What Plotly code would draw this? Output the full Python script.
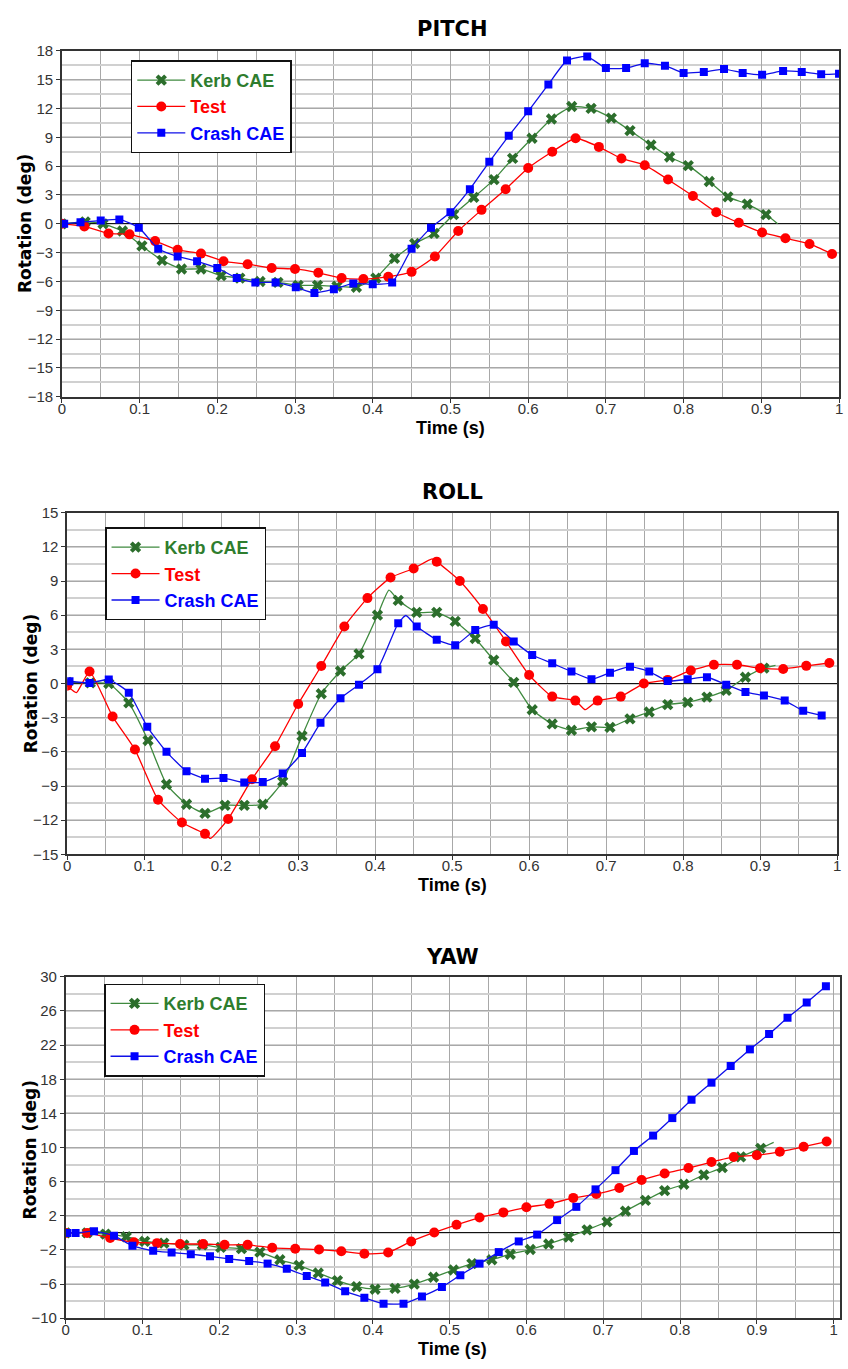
import plotly.graph_objects as go

# ---------------- DATA ----------------
# PITCH
pitch_kerb_t = [0, 0.03, 0.053, 0.078, 0.103, 0.129, 0.154, 0.179, 0.205, 0.229, 0.255, 0.278, 0.304, 0.329, 0.354, 0.379, 0.404, 0.428, 0.454, 0.479, 0.504, 0.53, 0.556, 0.58, 0.605, 0.63, 0.656, 0.681, 0.707, 0.731, 0.758, 0.782, 0.806, 0.833, 0.857, 0.882, 0.906]
pitch_kerb_v = [0, 0.2, 0.0, -0.75, -2.3, -3.8, -4.7, -4.7, -5.4, -5.65, -6.0, -6.1, -6.4, -6.4, -6.5, -6.6, -5.65, -3.6, -2.05, -1.0, 0.96, 2.75, 4.6, 6.8, 8.9, 10.9, 12.2, 12.0, 11.0, 9.7, 8.2, 6.95, 6.05, 4.4, 2.8, 2.05, 0.96]
pitch_kerb_extra_t = [0.921]
pitch_kerb_extra_v = [0.0]

pitch_test_t = [0, 0.029, 0.06, 0.087, 0.12, 0.149, 0.179, 0.208, 0.239, 0.27, 0.3, 0.33, 0.36, 0.388, 0.42, 0.45, 0.48, 0.51, 0.54, 0.571, 0.6, 0.631, 0.661, 0.691, 0.72, 0.75, 0.78, 0.812, 0.842, 0.871, 0.901, 0.931, 0.962, 0.991]
pitch_test_v = [0, -0.27, -1.0, -1.1, -1.8, -2.7, -3.1, -3.9, -4.2, -4.6, -4.7, -5.1, -5.65, -5.75, -5.5, -5.0, -3.4, -0.75, 1.45, 3.6, 5.8, 7.5, 8.9, 8.0, 6.8, 6.1, 4.6, 2.9, 1.2, 0.1, -0.9, -1.5, -2.1, -3.15]
pitch_test_extra_t = []
pitch_test_extra_v = []

pitch_crash_t = [0.003, 0.024, 0.05, 0.074, 0.099, 0.124, 0.149, 0.174, 0.2, 0.225, 0.249, 0.275, 0.301, 0.325, 0.35, 0.375, 0.4, 0.425, 0.45, 0.475, 0.5, 0.525, 0.55, 0.575, 0.6, 0.626, 0.65, 0.676, 0.7, 0.726, 0.75, 0.776, 0.8, 0.826, 0.852, 0.876, 0.901, 0.928, 0.952, 0.977, 1.0]
pitch_crash_v = [0, 0.17, 0.34, 0.45, -0.4, -2.6, -3.4, -3.9, -4.6, -5.65, -6.1, -6.1, -6.6, -7.2, -6.8, -6.2, -6.3, -6.1, -2.6, -0.4, 1.2, 3.6, 6.45, 9.15, 11.7, 14.5, 17.0, 17.4, 16.2, 16.2, 16.7, 16.45, 15.7, 15.8, 16.1, 15.7, 15.5, 15.9, 15.8, 15.55, 15.6]
pitch_crash_extra_t = []
pitch_crash_extra_v = []

# ROLL
roll_kerb_t = [0, 0.03, 0.054, 0.08, 0.105, 0.129, 0.155, 0.179, 0.205, 0.23, 0.254, 0.28, 0.305, 0.33, 0.355, 0.379, 0.403, 0.43, 0.454, 0.48, 0.504, 0.53, 0.554, 0.58, 0.604, 0.63, 0.655, 0.681, 0.705, 0.731, 0.756, 0.78, 0.806, 0.831, 0.856, 0.881, 0.905]
roll_kerb_v = [0.1, 0.05, 0, -1.7, -5.0, -8.85, -10.6, -11.4, -10.7, -10.7, -10.6, -8.6, -4.6, -0.9, 1.1, 2.6, 6.0, 7.3, 6.25, 6.25, 5.45, 3.95, 2.05, 0.1, -2.3, -3.55, -4.1, -3.8, -3.85, -3.1, -2.5, -1.85, -1.65, -1.2, -0.6, 0.55, 1.35]
roll_kerb_extra_t = [0.418, 0.92]
roll_kerb_extra_v = [8.2, 1.6]

roll_test_t = [0, 0.029, 0.059, 0.088, 0.118, 0.149, 0.179, 0.209, 0.24, 0.27, 0.3, 0.33, 0.36, 0.39, 0.42, 0.45, 0.48, 0.51, 0.54, 0.57, 0.6, 0.63, 0.66, 0.689, 0.719, 0.749, 0.78, 0.81, 0.84, 0.87, 0.9, 0.93, 0.96, 0.99]
roll_test_v = [-0.2, 1.05, -2.9, -5.8, -10.2, -12.2, -13.2, -11.9, -8.4, -5.5, -1.8, 1.54, 5.0, 7.5, 9.3, 10.1, 10.7, 9.0, 6.55, 3.7, 0.75, -1.15, -1.5, -1.5, -1.15, 0.0, 0.32, 1.15, 1.65, 1.65, 1.35, 1.28, 1.55, 1.8]
roll_test_extra_t = [0.012, 0.186, 0.474, 0.673]
roll_test_extra_v = [-0.8, -13.6, 10.95, -2.3]

roll_crash_t = [0.003, 0.029, 0.054, 0.08, 0.104, 0.129, 0.155, 0.179, 0.203, 0.23, 0.254, 0.28, 0.305, 0.329, 0.355, 0.379, 0.403, 0.43, 0.454, 0.48, 0.504, 0.53, 0.554, 0.58, 0.604, 0.63, 0.655, 0.681, 0.705, 0.731, 0.756, 0.78, 0.806, 0.831, 0.856, 0.881, 0.905, 0.932, 0.956, 0.98]
roll_crash_v = [0.2, 0.05, 0.35, -0.8, -3.8, -6.0, -7.7, -8.35, -8.3, -8.7, -8.65, -7.9, -6.1, -3.45, -1.3, -0.1, 1.25, 5.3, 5.0, 3.85, 3.36, 4.7, 5.15, 3.7, 2.5, 1.77, 1.05, 0.38, 0.95, 1.48, 1.05, 0.22, 0.37, 0.55, -0.1, -0.75, -1.05, -1.5, -2.4, -2.8]
roll_crash_extra_t = [0.44]
roll_crash_extra_v = [5.97]

# YAW
yaw_kerb_t = [0, 0.028, 0.052, 0.079, 0.103, 0.128, 0.154, 0.178, 0.202, 0.229, 0.253, 0.279, 0.304, 0.329, 0.354, 0.379, 0.403, 0.429, 0.454, 0.479, 0.505, 0.529, 0.555, 0.579, 0.605, 0.629, 0.655, 0.679, 0.705, 0.729, 0.755, 0.78, 0.805, 0.831, 0.855, 0.879, 0.905]
yaw_kerb_v = [0, 0, -0.15, -0.45, -1.0, -1.2, -1.4, -1.4, -1.7, -1.85, -2.25, -3.15, -3.8, -4.7, -5.6, -6.3, -6.6, -6.5, -6.0, -5.2, -4.35, -3.6, -3.15, -2.5, -1.95, -1.3, -0.5, 0.35, 1.3, 2.55, 3.8, 4.95, 5.7, 6.8, 7.65, 8.9, 9.9]
yaw_kerb_extra_t = [0.922]
yaw_kerb_extra_v = [10.6]

yaw_test_t = [0, 0.028, 0.058, 0.089, 0.119, 0.149, 0.179, 0.207, 0.237, 0.269, 0.299, 0.33, 0.359, 0.389, 0.42, 0.45, 0.48, 0.509, 0.539, 0.57, 0.6, 0.63, 0.661, 0.691, 0.721, 0.75, 0.78, 0.811, 0.841, 0.87, 0.9, 0.93, 0.961, 0.991]
yaw_test_v = [0, 0, -0.6, -1.1, -1.2, -1.3, -1.3, -1.4, -1.4, -1.75, -1.85, -1.95, -2.15, -2.45, -2.3, -1.0, 0.05, 0.95, 1.8, 2.4, 3.0, 3.4, 4.1, 4.55, 5.25, 6.2, 6.95, 7.6, 8.3, 8.9, 9.1, 9.5, 10.1, 10.7]
yaw_test_extra_t = []
yaw_test_extra_v = []

yaw_crash_t = [0.002, 0.013, 0.037, 0.063, 0.087, 0.114, 0.138, 0.163, 0.188, 0.213, 0.239, 0.263, 0.288, 0.314, 0.338, 0.364, 0.389, 0.414, 0.44, 0.464, 0.49, 0.514, 0.539, 0.564, 0.59, 0.614, 0.64, 0.665, 0.69, 0.716, 0.74, 0.765, 0.79, 0.815, 0.841, 0.866, 0.891, 0.916, 0.94, 0.965, 0.99]
yaw_crash_v = [0, 0, 0.2, -0.35, -1.5, -2.1, -2.3, -2.5, -2.75, -3.05, -3.3, -3.6, -4.2, -5.05, -5.8, -6.85, -7.6, -8.3, -8.3, -7.45, -6.35, -4.95, -3.6, -2.25, -1.0, -0.2, 1.5, 3.05, 5.1, 7.35, 9.6, 11.4, 13.45, 15.6, 17.6, 19.55, 21.5, 23.3, 25.2, 27.0, 28.9]
yaw_crash_extra_t = []
yaw_crash_extra_v = []

series_names = ["Kerb CAE", "Test", "Crash CAE"]
panel_titles = ["PITCH", "ROLL", "YAW"]
pitch_ticks = [-18, -15, -12, -9, -6, -3, 0, 3, 6, 9, 12, 15, 18]
roll_ticks = [-15, -12, -9, -6, -3, 0, 3, 6, 9, 12, 15]
yaw_ticks = [-10, -6, -2, 2, 6, 10, 14, 18, 22, 26, 30]
x_ticks = [0, 0.1, 0.2, 0.3, 0.4, 0.5, 0.6, 0.7, 0.8, 0.9, 1]
x_tick_text = ["0", "0.1", "0.2", "0.3", "0.4", "0.5", "0.6", "0.7", "0.8", "0.9", "1"]

# ---------------- STYLE ----------------
W, H = 848, 1369
TICK_FONT = dict(family="Liberation Sans Narrow, Arial Narrow, Liberation Sans, Arial", size=15, color="#333")
styles = {
    "Kerb CAE": dict(line="#3f8a3f", marker="#2c6e2c", symbol="x", size=10, text="#2e7d2e"),
    "Test": dict(line="#ff0000", marker="#ff0000", symbol="circle", size=10, text="#ff0000"),
    "Crash CAE": dict(line="#1010e8", marker="#0000ff", symbol="square", size=8, text="#0000ff"),
}

def px2x(px):
    return px / W

def px2y(py):
    return 1 - py / H

panels = [
    dict(title="PITCH", xd=(58.4, 843.0), yd=(42.3, 392.7), yr=(-18, 18), ticks=pitch_ticks, minor=1.5,
         xr=(0, 1.0), title_y=20, xtitle_y=424, ytitle=(22, 217), legend=(128, 52),
         data=[(pitch_kerb_t, pitch_kerb_v, pitch_kerb_extra_t, pitch_kerb_extra_v),
               (pitch_test_t, pitch_test_v, pitch_test_extra_t, pitch_test_extra_v),
               (pitch_crash_t, pitch_crash_v, pitch_crash_extra_t, pitch_crash_extra_v)]),
    dict(title="ROLL", xd=(63.8, 841.0), yd=(510.0, 856.0), yr=(-15, 15), ticks=roll_ticks, minor=1.5,
         xr=(0, 1.0), title_y=489, xtitle_y=887, ytitle=(27, 683), legend=(102, 525),
         data=[(roll_kerb_t, roll_kerb_v, roll_kerb_extra_t, roll_kerb_extra_v),
               (roll_test_t, roll_test_v, roll_test_extra_t, roll_test_extra_v),
               (roll_crash_t, roll_crash_v, roll_crash_extra_t, roll_crash_extra_v)]),
    dict(title="YAW", xd=(62.2, 843.7), yd=(980.0, 1325.7), yr=(-10, 30), ticks=yaw_ticks, minor=2,
         xr=(0, 1.008), title_y=960, xtitle_y=1357, ytitle=(26, 1155), legend=(101, 987),
         data=[(yaw_kerb_t, yaw_kerb_v, yaw_kerb_extra_t, yaw_kerb_extra_v),
               (yaw_test_t, yaw_test_v, yaw_test_extra_t, yaw_test_extra_v),
               (yaw_crash_t, yaw_crash_v, yaw_crash_extra_t, yaw_crash_extra_v)]),
]

fig = go.Figure()
annotations = []
layout = dict(width=W, height=H, margin=dict(l=0, r=0, t=0, b=0, pad=0),
              paper_bgcolor="white", plot_bgcolor="white", showlegend=True)

for i, p in enumerate(panels):
    n = "" if i == 0 else str(i + 1)
    xa, ya = "x" + n, "y" + n
    leg = "legend" + n
    for name, (t, v, et, ev) in zip(series_names, p["data"]):
        st = styles[name]
        pts = sorted(list(zip(t, v)) + list(zip(et, ev)))
        lt = [a for a, _ in pts]
        lv = [b for _, b in pts]
        fig.add_trace(go.Scatter(x=lt, y=lv, mode="lines", xaxis=xa, yaxis=ya,
                                 line=dict(color=st["line"], width=1.3, shape="spline", smoothing=0.5),
                                 showlegend=False, hoverinfo="skip"))
        fig.add_trace(go.Scatter(x=t, y=v, mode="markers", xaxis=xa, yaxis=ya,
                                 marker=dict(color=st["marker"], symbol=st["symbol"], size=st["size"],
                                             line=dict(width=0)),
                                 showlegend=False))
    for name in series_names:
        st = styles[name]
        fig.add_trace(go.Scatter(x=[None], y=[None], mode="lines+markers", xaxis=xa, yaxis=ya,
                                 name='<b><span style="color:%s">%s</span></b>' % (st["text"], name),
                                 line=dict(color=st["line"], width=1.3),
                                 marker=dict(color=st["marker"], symbol=st["symbol"], size=st["size"]),
                                 legend=leg, showlegend=True))
    layout["xaxis" + n] = dict(
        domain=[px2x(p["xd"][0]), px2x(p["xd"][1])], anchor=ya, range=list(p["xr"]),
        tickvals=x_ticks, ticktext=x_tick_text, tickfont=TICK_FONT,
        ticklabelstandoff=-7,
        showgrid=True, gridcolor="#a8a8a8", gridwidth=1,
        minor=dict(dtick=0.05, tick0=0, showgrid=True, gridcolor="#a8a8a8", gridwidth=1),
        showline=True, linecolor="#333", linewidth=1.5, mirror=True,
        ticks="outside", ticklen=4, tickcolor="#333", zeroline=False, fixedrange=True)
    layout["yaxis" + n] = dict(
        domain=[px2y(p["yd"][1]), px2y(p["yd"][0])], anchor=xa, range=list(p["yr"]),
        tickvals=p["ticks"], tickfont=TICK_FONT,
        showgrid=True, gridcolor="#a8a8a8", gridwidth=1,
        minor=dict(dtick=p["minor"], tick0=0, showgrid=True, gridcolor="#d0d0d0", gridwidth=2),
        showline=True, linecolor="#333", linewidth=1.5, mirror=True,
        ticks="outside", ticklen=4, tickcolor="#333",
        zeroline=True, zerolinecolor="#111", zerolinewidth=1.3, fixedrange=True)
    layout[leg] = dict(x=px2x(p["legend"][0]), y=px2y(p["legend"][1]), xanchor="left", yanchor="top",
                       bgcolor="white", bordercolor="#111", borderwidth=1.5,
                       font=dict(family="Liberation Sans, Arial", size=18),
                       tracegroupgap=0, itemwidth=48)
    annotations.append(dict(text="<b>%s</b>" % p["title"], x=0.534, y=px2y(p["title_y"]), xref="paper", yref="paper",
                            showarrow=False, xanchor="center", yanchor="middle",
                            font=dict(family="DejaVu Sans, Verdana", size=21, color="#000")))
    annotations.append(dict(text="<b>Time (s)</b>", x=(px2x(p["xd"][0]) + px2x(p["xd"][1])) / 2, y=px2y(p["xtitle_y"]),
                            xref="paper", yref="paper", showarrow=False, xanchor="center", yanchor="middle",
                            font=dict(family="Liberation Sans, Arial", size=18, color="#000")))
    annotations.append(dict(text="<b>Rotation (deg)</b>", x=px2x(p["ytitle"][0]), y=px2y(p["ytitle"][1]),
                            xref="paper", yref="paper", showarrow=False, textangle=-90,
                            xanchor="center", yanchor="middle",
                            font=dict(family="DejaVu Sans, Verdana", size=17, color="#000")))

layout["annotations"] = annotations
fig.update_layout(**layout)
fig.write_html("out.html", config={"displayModeBar": False},
               post_script="document.documentElement.style.margin='0px';document.body.style.margin='0px';"
                           "document.documentElement.style.overflow='hidden';document.body.style.overflow='hidden';")
